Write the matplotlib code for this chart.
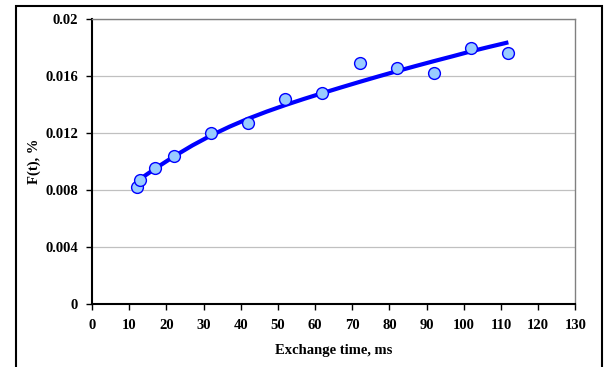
import matplotlib
matplotlib.use("Agg")
import matplotlib.pyplot as plt
from matplotlib.patches import Rectangle

# Measured points
exchange_time = [12, 13, 17, 22, 32, 42, 52, 62, 72, 82, 92, 102, 112]
f_values = [0.0082, 0.0087, 0.00955, 0.0104, 0.0120, 0.0127, 0.0144, 0.0148,
            0.0169, 0.0166, 0.01625, 0.0180, 0.0176]

# Fitted curve
curve_x = [12, 17, 22, 27, 32, 37, 42, 47, 52, 57, 62, 67, 72, 77, 82, 87,
           92, 97, 102, 107, 112]
curve_y = [0.00860, 0.00950, 0.01035, 0.01113, 0.01183, 0.01245, 0.01301,
           0.01351, 0.01397, 0.01440, 0.01481, 0.01521, 0.01560, 0.01598,
           0.01635, 0.01671, 0.01706, 0.01740, 0.01775, 0.01807, 0.01838]

x_ticks = list(range(0, 131, 10))
y_ticks = [0, 0.004, 0.008, 0.012, 0.016, 0.02]
y_tick_labels = ["0", "0.004", "0.008", "0.012", "0.016", "0.02"]

W, H = 608, 367
fig = plt.figure(figsize=(W / 100, H / 100), dpi=100)
ax = fig.add_axes([92 / W, 1 - 303.7 / H, (575.3 - 92) / W, (303.7 - 19.3) / H])

font = dict(family="Liberation Serif", weight="bold", size=10.5)

ax.plot(curve_x, curve_y, color="#0000ff", lw=3.0, solid_capstyle="butt",
        solid_joinstyle="round", zorder=3)
ax.plot(exchange_time, f_values, linestyle="none", marker="o", markersize=8.5,
        markerfacecolor="#99ccff", markeredgecolor="#0000ff", markeredgewidth=1.0,
        zorder=4)

ax.set_xlim(0, 130)
ax.set_ylim(0, 0.02)
ax.set_xticks(x_ticks)
ax.set_xticklabels([str(v) for v in x_ticks], fontdict=font)
ax.set_yticks(y_ticks)
ax.set_yticklabels(y_tick_labels, fontdict=font)

ax.yaxis.grid(True, color="#c0c0c0", lw=0.9)
ax.set_axisbelow(True)

ax.tick_params(axis="both", direction="out", length=4, width=1.0, color="black")
ax.tick_params(axis="y", pad=6)
ax.tick_params(axis="x", pad=7)

for side in ["left", "bottom"]:
    ax.spines[side].set_color("black")
    ax.spines[side].set_linewidth(1.5)
for side in ["top", "right"]:
    ax.spines[side].set_color("#808080")
    ax.spines[side].set_linewidth(1.0)

ax.set_xlabel("Exchange time, ms", fontdict=font, labelpad=9)
ax.set_ylabel("F(t), %", fontdict=font, labelpad=3)

# outer chart frame
frame = Rectangle((15.7 / W, -0.1), (601.7 - 15.7) / W, (H - 6) / H + 0.1,
                  transform=fig.transFigure, fill=False, edgecolor="black",
                  lw=1.5, clip_on=False)
fig.patches.append(frame)

fig.savefig("out.png", dpi=100)
